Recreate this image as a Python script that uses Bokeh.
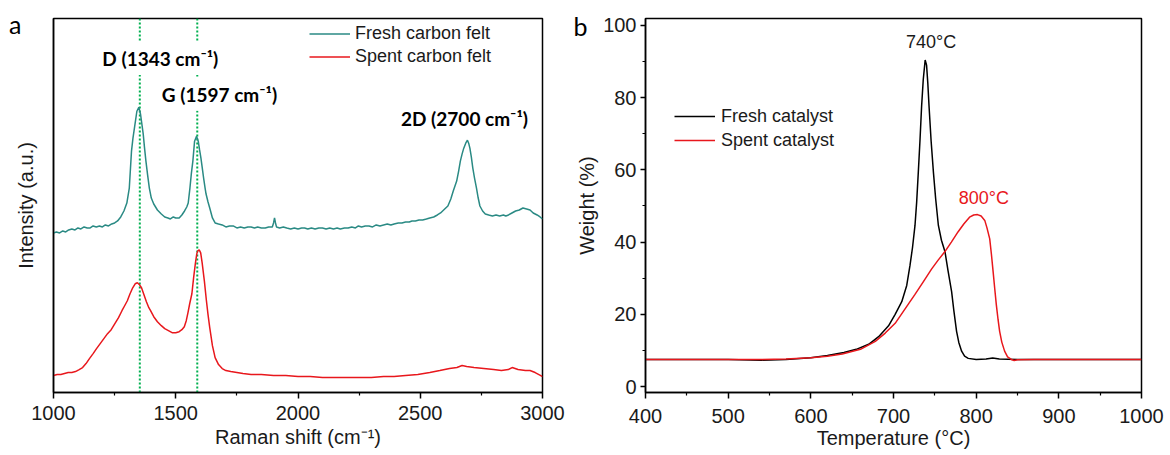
from bokeh.plotting import figure
from bokeh.models import Range1d, Label, Legend, LegendItem, FixedTicker, LinearAxis
from bokeh.layouts import row
from bokeh.embed import file_html
from bokeh.resources import INLINE

# ---------------- Panel a: Raman spectra ----------------
raman_fresh_x = [1000, 1012, 1025, 1038, 1050, 1062, 1075, 1088, 1100, 1112, 1125, 1138, 1150, 1162, 1175,
                 1188, 1200, 1212, 1225, 1238, 1250, 1262, 1275, 1288, 1300, 1310, 1319, 1325, 1331, 1341,
                 1349, 1356, 1362, 1367, 1372, 1378, 1385, 1392, 1400, 1410, 1425, 1441, 1455, 1468, 1478,
                 1490, 1500, 1514, 1525, 1536, 1545, 1551, 1558, 1564, 1570, 1577, 1585, 1592, 1597, 1603,
                 1608, 1614, 1620, 1624, 1632, 1639, 1650, 1661, 1675, 1690, 1705, 1720, 1735, 1750, 1765,
                 1780, 1795, 1808, 1822, 1835, 1850, 1866, 1880, 1895, 1900, 1904, 1908, 1912, 1925, 1940,
                 1954, 1970, 1985, 2000, 2015, 2027, 2040, 2055, 2070, 2085, 2100, 2115, 2130, 2145, 2160,
                 2173, 2190, 2205, 2220, 2235, 2247, 2260, 2275, 2290, 2305, 2320, 2335, 2350, 2365, 2380,
                 2393, 2410, 2425, 2440, 2455, 2466, 2480, 2495, 2510, 2525, 2539, 2555, 2570, 2583, 2600,
                 2613, 2625, 2635, 2642, 2649, 2657, 2664, 2671, 2678, 2686, 2693, 2698, 2703, 2709, 2715,
                 2722, 2730, 2737, 2744, 2755, 2766, 2780, 2795, 2810, 2825, 2840, 2850, 2861, 2875, 2890,
                 2905, 2920, 2935, 2949, 2962, 2978, 2990, 3000]
raman_fresh_y = [160, 161, 160, 162, 161, 163, 164, 163, 165, 164, 166, 165, 165, 167, 166,
                 167, 166, 168, 167, 169, 170, 172, 176, 182, 190, 205, 242, 255, 265, 282,
                 286, 279, 268, 259, 246, 232, 218, 205, 195, 189, 183, 179, 176, 175, 174,
                 176, 175, 175, 178, 182, 186, 190, 205, 220, 232, 252, 257, 252, 244, 235,
                 226, 215, 205, 199, 191, 185, 175, 170, 169, 168, 166, 167, 167, 165, 166,
                 165, 166, 166, 165, 166, 165, 165, 166, 166, 170, 175, 170, 166, 165, 166,
                 165, 164, 165, 164, 165, 165, 164, 165, 164, 165, 165, 164, 165, 164, 165,
                 164, 165, 165, 166, 165, 167, 166, 167, 167, 166, 168, 167, 168, 169, 168,
                 169, 170, 170, 171, 171, 172, 172, 173, 173, 174, 175, 176, 178, 180, 184,
                 187, 194, 202, 207, 212, 222, 232, 239, 245, 250, 253, 250, 245, 236, 225,
                 215, 205, 195, 187, 182, 179, 178, 177, 178, 177, 178, 177, 178, 180, 182,
                 183, 185, 184, 183, 180, 178, 176, 174]

raman_spent_x = [1000, 1015, 1030, 1045, 1060, 1075, 1090, 1105, 1119, 1133, 1147, 1162, 1176, 1191, 1206,
                 1221, 1236, 1251, 1266, 1280, 1291, 1302, 1313, 1324, 1334, 1343, 1352, 1360, 1370, 1380,
                 1390, 1397, 1410, 1425, 1441, 1455, 1470, 1485, 1500, 1514, 1525, 1535, 1543, 1550, 1557,
                 1566, 1573, 1580, 1586, 1590, 1596, 1602, 1608, 1617, 1625, 1632, 1639, 1650, 1661, 1675,
                 1690, 1705, 1725, 1750, 1775, 1808, 1850, 1900, 1950, 2000, 2050, 2100, 2150, 2200, 2250,
                 2300, 2350, 2393, 2440, 2490, 2539, 2580, 2620, 2650, 2671, 2690, 2720, 2760, 2800, 2832,
                 2860, 2876, 2900, 2930, 2949, 2970, 2993, 3000]
raman_spent_y = [17, 18, 18, 19, 20, 20, 21, 23, 25, 29, 34, 39, 44, 49, 54,
                 59, 63, 69, 75, 82, 87, 92, 99, 105, 109, 110, 108, 105, 98, 91,
                 85, 82, 76, 71, 67, 64, 62, 60, 60, 61, 63, 66, 72, 80, 89,
                 99, 115, 129, 139, 142, 143, 140, 130, 112, 93, 78, 65, 47, 35, 28,
                 24, 22, 21, 20, 19, 18, 18, 17, 17, 16, 16, 15, 15, 15, 15,
                 15, 16, 16, 17, 18, 20, 22, 24, 25, 27, 26, 25, 24, 23, 22,
                 23, 25, 23, 22, 22, 20, 17, 16]

raman_ticks = [1000, 1500, 2000, 2500, 3000]
raman_minor = [1250, 1750, 2250, 2750]
peak_lines = [1353, 1588]

# ---------------- Panel b ----------------
temp_fresh = [400, 450, 500, 540, 570, 600, 620, 640, 655, 670, 682, 694, 702, 710, 716, 720, 723, 726,
              728, 730, 732, 734, 736, 738.3, 740, 741.5, 743, 745.5, 748.3, 751, 754.3, 758, 762.3, 766,
              770.3, 773, 776.3, 779, 782.4, 786, 790.4, 800, 812, 820, 828, 850, 900, 950, 1000]
weight_fresh = [7.5, 7.5, 7.5, 7.3, 7.5, 8.0, 8.6, 9.4, 10.3, 11.7, 13.8, 16.8, 20.0, 23.5, 28, 33.6, 38.5, 44.6,
                51, 59.3, 68, 77.6, 85, 90.4, 89, 84, 77.6, 68, 59.3, 52, 44.6, 40.5, 37.3, 32,
                26.3, 21, 15.3, 12.2, 9.8, 8.4, 7.8, 7.5, 7.6, 7.9, 7.6, 7.5, 7.5, 7.5, 7.5]

temp_spent = [400, 450, 500, 540, 570, 600, 620, 638, 660, 678, 690, 702, 714, 726, 736, 746, 754, 762,
              770, 778, 785, 792, 797, 801.6, 806, 810.4, 813, 816.4, 818.5, 820.5, 822.5, 824.4, 826.5,
              828.4, 831, 834.4, 838, 842.5, 846, 850, 870, 900, 950, 1000]
weight_spent = [7.5, 7.5, 7.5, 7.5, 7.6, 8.0, 8.4, 9.0, 10.3, 12.5, 14.8, 17.5, 21.5, 25.5, 29, 32.5, 35, 37.3,
                40, 42.8, 45, 46.9, 47.5, 47.6, 47.2, 46, 44, 40.9, 36.5, 31.8, 27, 22.6, 18.5,
                15.3, 12.3, 9.8, 8.2, 7.5, 7.2, 7.4, 7.5, 7.5, 7.5, 7.5]

temp_ticks = [400, 500, 600, 700, 800, 900, 1000]
temp_minor = [450, 550, 650, 750, 850, 950]
weight_ticks = [0, 20, 40, 60, 80, 100]
weight_minor = [10, 30, 50, 70, 90]

TEAL = "#2a8a84"
RED = "#e8171c"
GREEN = "#00b050"
FONT = "Liberation Sans"


def style_axes(p):
    p.xgrid.visible = False
    p.ygrid.visible = False
    p.outline_line_color = "black"
    p.outline_line_width = 1.5
    p.outline_line_alpha = 1
    p.background_fill_color = "white"
    p.border_fill_color = "white"
    for ax in [p.xaxis[0], p.yaxis[0]]:
        ax.axis_line_color = "black"
        ax.axis_line_width = 1.5
        ax.major_tick_line_color = "black"
        ax.major_tick_line_width = 1.5
        ax.minor_tick_line_color = "black"
        ax.minor_tick_line_width = 1.2
        ax.major_tick_in = 0
        ax.major_tick_out = 6
        ax.minor_tick_in = 0
        ax.minor_tick_out = 3
        ax.major_label_text_font = FONT
        ax.major_label_text_font_size = "20px"
        ax.major_label_text_color = "#1a1a1a"
        ax.axis_label_text_font = FONT
        ax.axis_label_text_font_size = "20px"
        ax.axis_label_text_font_style = "normal"
        ax.axis_label_text_color = "#1a1a1a"


def panel_letter_axis(tick, letter, standoff):
    # an outer, line-less axis whose single tick label is the panel letter
    return LinearAxis(ticker=FixedTicker(ticks=[tick], minor_ticks=[]),
                      major_label_overrides={tick: letter},
                      axis_line_color=None, major_tick_line_color=None, minor_tick_line_color=None,
                      major_tick_in=0, major_tick_out=0, minor_tick_in=0, minor_tick_out=0,
                      major_label_standoff=standoff, axis_label_standoff=0,
                      major_label_text_font="Lato", major_label_text_font_size="25px",
                      major_label_text_color="black")


# ----- figure a -----
p1 = figure(width=570, height=455, x_range=Range1d(1000, 3000), y_range=Range1d(0, 375),
            output_backend="svg", toolbar_location=None,
            min_border_left=53, min_border_right=28, min_border_top=17, min_border_bottom=63)
style_axes(p1)
p1.xaxis.ticker = FixedTicker(ticks=raman_ticks, minor_ticks=raman_minor)
p1.xaxis.axis_label = "Raman shift (cm\u207b\u00b9)"
p1.xaxis.major_label_standoff = 7
p1.xaxis.axis_label_standoff = 3
p1.yaxis.ticker = FixedTicker(ticks=[], minor_ticks=[])
p1.yaxis.axis_label = "Intensity (a.u.)"
p1.yaxis.axis_label_standoff = 17
p1.add_layout(panel_letter_axis(369, "a", -10), "left")

p1.segment(x0=peak_lines, x1=peak_lines, y0=[0, 0], y1=[375, 375],
           line_color=GREEN, line_width=2, line_dash="2 2")
r_fresh = p1.line(raman_fresh_x, raman_fresh_y, line_color=TEAL, line_width=1.5)
r_spent = p1.line(raman_spent_x, raman_spent_y, line_color=RED, line_width=1.5)

for txt, x, y in [("D (1343 cm\u207b\u00b9)", 1437, 335),
                  ("G (1597 cm\u207b\u00b9)", 1679, 299),
                  ("2D (2700 cm\u207b\u00b9)", 2681, 275)]:
    p1.add_layout(Label(x=x, y=y, text=txt, text_font="Lato", text_font_style="bold",
                        text_font_size="19px", text_align="center", text_baseline="middle",
                        text_color="black", background_fill_color="white", padding=5))

leg1 = Legend(items=[LegendItem(label="Fresh carbon felt", renderers=[r_fresh]),
                     LegendItem(label="Spent carbon felt", renderers=[r_spent])],
              location=(256, 324))
leg1.background_fill_alpha = 0
leg1.border_line_color = None
leg1.label_text_font = FONT
leg1.label_text_font_size = "18px"
leg1.label_text_color = "#1a1a1a"
leg1.glyph_width = 41
leg1.glyph_height = 23
leg1.label_height = 23
leg1.label_standoff = 5
leg1.spacing = 0
leg1.padding = 0
leg1.margin = 0
p1.add_layout(leg1)

# ----- figure b -----
p2 = figure(width=600, height=455, x_range=Range1d(400, 1000), y_range=Range1d(-1.65, 101.9),
            output_backend="svg", toolbar_location=None,
            min_border_left=72, min_border_right=29, min_border_top=18, min_border_bottom=60)
style_axes(p2)
p2.xaxis.ticker = FixedTicker(ticks=temp_ticks, minor_ticks=temp_minor)
p2.yaxis.ticker = FixedTicker(ticks=weight_ticks, minor_ticks=weight_minor)
p2.xaxis.axis_label = "Temperature (\u00b0C)"
p2.yaxis.axis_label = "Weight (%)"
p2.xaxis.major_label_standoff = 10
p2.xaxis.axis_label_standoff = 1
p2.yaxis.major_tick_out = 5
p2.yaxis.major_label_standoff = 4
p2.yaxis.axis_label_standoff = 2
p2.add_layout(panel_letter_axis(99.8, "b", -14), "left")

r_cat_fresh = p2.line(temp_fresh, weight_fresh, line_color="black", line_width=1.5)
r_cat_spent = p2.line(temp_spent, weight_spent, line_color=RED, line_width=1.5)

p2.add_layout(Label(x=745.5, y=95.3, text="740\u00b0C", text_font=FONT, text_font_size="18px",
                    text_align="center", text_baseline="middle", text_color="#1a1a1a"))
p2.add_layout(Label(x=809.4, y=52.2, text="800\u00b0C", text_font=FONT, text_font_size="18px",
                    text_align="center", text_baseline="middle", text_color=RED))

leg2 = Legend(items=[LegendItem(label="Fresh catalyst", renderers=[r_cat_fresh]),
                     LegendItem(label="Spent catalyst", renderers=[r_cat_spent])],
              location=(29, 240))
leg2.background_fill_alpha = 0
leg2.border_line_color = None
leg2.label_text_font = FONT
leg2.label_text_font_size = "18px"
leg2.label_text_color = "#1a1a1a"
leg2.glyph_width = 41
leg2.glyph_height = 24
leg2.label_height = 24
leg2.label_standoff = 6
leg2.spacing = 0
leg2.padding = 0
leg2.margin = 0
p2.add_layout(leg2)

layout = row(p1, p2)
open("out.html", "w").write(file_html(layout, INLINE))
